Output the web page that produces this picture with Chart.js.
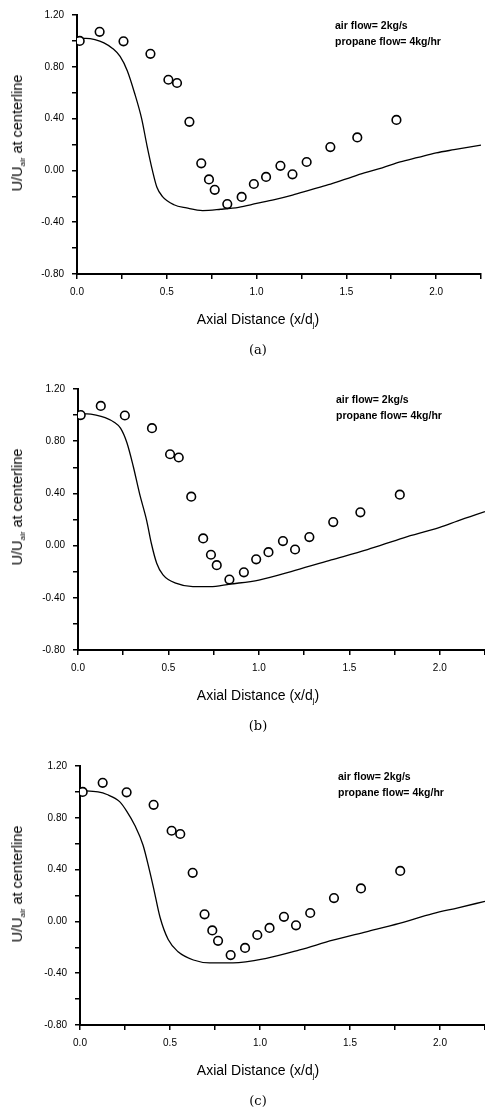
<!DOCTYPE html>
<html>
<head>
<meta charset="utf-8">
<script src="https://cdn.jsdelivr.net/npm/chart.js@4"></script>
<style>
  body { margin:0; background:#fff; }
  #wrap { position:relative; width:485px; height:1113px; overflow:hidden; }
  .panel { position:absolute; left:0; width:485px; height:370px; }
  .panel canvas { position:absolute; left:0; top:0; }
  .txt { position:absolute; font-family:"Liberation Sans", Arial, sans-serif; color:#000; white-space:nowrap; }
  .note { font-size:10.5px; font-weight:bold; line-height:16px; }
  .xt { font-size:14px; transform:translateX(-50%); }
  .yt { font-size:14.5px; transform:translate(-50%,-50%) rotate(-90deg); }
  .cap { font-family:"DejaVu Serif", "Liberation Serif", serif; font-size:13px; transform:translateX(-50%); }
  sub { font-size:8px; vertical-align:-3px; }
</style>
</head>
<body>
<div id="wrap"></div>
<script>
// measured points (same data in all three panels)
const expX = [0.015, 0.126, 0.259, 0.409, 0.509, 0.557, 0.626, 0.692, 0.735, 0.767,
              0.837, 0.917, 0.985, 1.053, 1.133, 1.200, 1.279, 1.411, 1.561, 1.779];
const expY = [1.00, 1.07, 0.997, 0.90, 0.70, 0.675, 0.375, 0.055, -0.07, -0.15,
              -0.26, -0.205, -0.105, -0.05, 0.035, -0.03, 0.065, 0.18, 0.255, 0.39];

// computed curves
const curveAX = [0, 0.05, 0.10, 0.15, 0.20, 0.24, 0.28, 0.32, 0.36, 0.39, 0.42, 0.445, 0.475,
                 0.54, 0.61, 0.70, 0.80, 0.90, 1.0, 1.1, 1.2, 1.3, 1.4, 1.5, 1.6, 1.7, 1.8, 1.9, 2.0, 2.1, 2.25];
const curveAY = [1.02, 1.02, 1.01, 0.985, 0.94, 0.88, 0.77, 0.60, 0.40, 0.19, 0.00, -0.13, -0.20,
                 -0.265, -0.29, -0.31, -0.30, -0.285, -0.255, -0.225, -0.19, -0.15, -0.11, -0.065, -0.02, 0.02, 0.065, 0.10, 0.135, 0.16, 0.195];

const curveBX = [0, 0.05, 0.10, 0.15, 0.20, 0.235, 0.27, 0.305, 0.34, 0.38, 0.405, 0.435, 0.47,
                 0.545, 0.635, 0.73, 0.84, 1.0, 1.2, 1.4, 1.6, 1.8, 2.0, 2.1, 2.25];
const curveBY = [1.01, 1.01, 1.00, 0.98, 0.945, 0.90, 0.79, 0.61, 0.40, 0.19, 0.02, -0.135, -0.225,
                 -0.29, -0.315, -0.315, -0.295, -0.264, -0.19, -0.11, -0.03, 0.06, 0.14, 0.19, 0.26];

const curveCX = [0, 0.10, 0.15, 0.22, 0.26, 0.305, 0.35, 0.385, 0.41, 0.445, 0.49, 0.545,
                 0.63, 0.72, 0.85, 1.035, 1.22, 1.405, 1.59, 1.774, 1.96, 2.1, 2.25];
const curveCY = [1.01, 1.00, 0.98, 0.925, 0.85, 0.74, 0.59, 0.40, 0.25, 0.03, -0.14, -0.235,
                 -0.298, -0.32, -0.32, -0.285, -0.22, -0.145, -0.08, -0.015, 0.06, 0.105, 0.155];

const noteLines = ["air flow= 2kg/s", "propane flow= 4kg/hr"];
const captions = ["(a)", "(b)", "(c)"];

Chart.defaults.font.family = "'Liberation Sans', Arial, sans-serif";
Chart.defaults.color = "#000";

const pts = (xs, ys) => xs.map((x, i) => ({x, y: ys[i]}));

// layout of each panel on the page (canvas a bit wider than the page, right edge runs off)
const panels = [
  {top: 0,   padTop: 15, areaH: 259, left: 77, canvasW: 488, curveX: curveAX, curveY: curveAY},
  {top: 374, padTop: 15, areaH: 261, left: 78, canvasW: 492, curveX: curveBX, curveY: curveBY},
  {top: 751, padTop: 15, areaH: 259, left: 80, canvasW: 492, curveX: curveCX, curveY: curveCY},
];

const wrap = document.getElementById("wrap");

panels.forEach((p, i) => {
  const H = 370;
  const div = document.createElement("div");
  div.className = "panel";
  div.style.top = p.top + "px";
  const bottom = p.padTop + p.areaH;
  div.innerHTML = `
    <canvas width="${p.canvasW}" height="${H}"></canvas>
    <div class="txt note" style="left:${p.left + 258}px;top:${p.padTop + 2}px">${noteLines[0]}<br>${noteLines[1]}</div>
    <div class="txt yt" style="left:18px;top:${p.padTop + 118}px">U/U<sub>air</sub> at centerline</div>
    <div class="txt xt" style="left:258px;top:${bottom + 37}px">Axial Distance (x/d<sub>j</sub>)</div>
    <div class="txt cap" style="left:258px;top:${bottom + 68}px">${captions[i]}</div>`;
  wrap.appendChild(div);

  new Chart(div.querySelector("canvas"), {
    type: "scatter",
    data: {
      datasets: [
        {
          label: "measured",
          data: pts(expX, expY),
          pointStyle: "circle",
          pointRadius: 4.3,
          pointBorderWidth: 1.6,
          pointBorderColor: "#000",
          pointBackgroundColor: "#fff",
          showLine: false,
          order: 0
        },
        {
          label: "computed",
          data: pts(p.curveX, p.curveY),
          showLine: true,
          borderColor: "#000",
          borderWidth: 1.3,
          pointRadius: 0,
          cubicInterpolationMode: "monotone",
          order: 1
        }
      ]
    },
    options: {
      responsive: false,
      animation: false,
      devicePixelRatio: 1,
      layout: {padding: {top: p.padTop, right: 0, left: 0, bottom: 0}},
      plugins: {legend: {display: false}, tooltip: {enabled: false}},
      scales: {
        x: {
          type: "linear",
          min: 0, max: 2.25,
          afterFit: (s) => { s.height = H - bottom; },
          border: {display: true, color: "#000", width: 2},
          grid: {drawOnChartArea: false, drawTicks: true, tickLength: 5, color: "#000", lineWidth: 1.5},
          ticks: {
            stepSize: 0.25,
            padding: 7,
            maxRotation: 0,
            autoSkip: false,
            font: {size: 10},
            callback: (v) => (Math.round(v * 100) % 50 === 0 ? v.toFixed(1) : "")
          }
        },
        y: {
          min: -0.8, max: 1.2,
          afterFit: (s) => { s.width = p.left; },
          border: {display: true, color: "#000", width: 2},
          grid: {drawOnChartArea: false, drawTicks: true, tickLength: 5, color: "#000", lineWidth: 1.5},
          ticks: {
            stepSize: 0.2,
            padding: 8,
            autoSkip: false,
            font: {size: 10},
            callback: (v) => (Math.round(v * 100) % 40 === 0 ? v.toFixed(2) : "")
          }
        }
      }
    }
  });
});
</script>
</body>
</html>
